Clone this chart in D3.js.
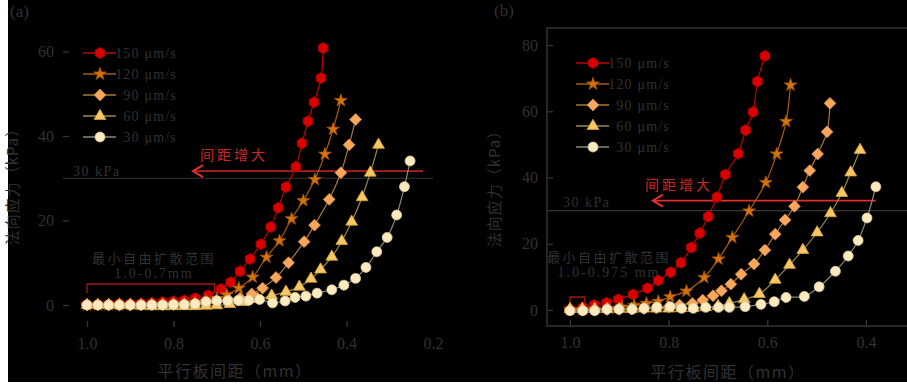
<!DOCTYPE html>
<html>
<head>
<meta charset="utf-8">
<script src="https://cdn.jsdelivr.net/npm/d3@7"></script>
<style>
  body { margin: 0; background: #fff; }
  svg text { font-family: "Liberation Serif", "DejaVu Serif", serif; fill: #313131; }
  svg text.cjk { font-family: "Noto Sans CJK SC", sans-serif; }
</style>
</head>
<body>
<div id="chart"></div>
<script>
// legend labels
var speeds = ["150 μm/s", "120 μm/s", "90 μm/s", "60 μm/s", "30 μm/s"];

// tick values
var xTicksA = [1.0, 0.8, 0.6, 0.4, 0.2];
var yTicksA = [0, 20, 40, 60];
var xTicksB = [1.0, 0.8, 0.6, 0.4];
var yTicksB = [0, 20, 40, 60, 80];

// panel (a): plate gap (mm) and normal stress (kPa)
var a150Gap = [1.0, 0.975, 0.95, 0.925, 0.9, 0.875, 0.85, 0.825, 0.8, 0.775, 0.75, 0.72, 0.69, 0.668, 0.646, 0.623, 0.598, 0.575, 0.558, 0.54, 0.517, 0.503, 0.489, 0.475, 0.459, 0.454];
var a150Kpa = [0.1, 0.1, 0.2, 0.3, 0.3, 0.4, 0.5, 0.7, 0.9, 1.1, 1.6, 2.3, 3.8, 5.4, 8.0, 10.9, 14.4, 18.5, 23.0, 27.9, 32.7, 38.3, 43.5, 48.0, 53.7, 60.8];
var a120Gap = [1.0, 0.975, 0.95, 0.925, 0.9, 0.875, 0.85, 0.825, 0.8, 0.775, 0.75, 0.725, 0.7, 0.677, 0.649, 0.617, 0.585, 0.555, 0.527, 0.5, 0.473, 0.45, 0.431, 0.413];
var a120Kpa = [0, 0, 0, 0, 0.1, 0.1, 0.2, 0.2, 0.3, 0.4, 0.6, 0.9, 1.5, 2.4, 4.0, 6.6, 11.3, 15.2, 20.4, 24.7, 29.7, 35.7, 41.6, 48.4];
var a90Gap = [1.0, 0.975, 0.95, 0.925, 0.9, 0.875, 0.85, 0.825, 0.8, 0.775, 0.75, 0.725, 0.7, 0.672, 0.646, 0.619, 0.594, 0.563, 0.534, 0.498, 0.474, 0.44, 0.413, 0.394, 0.379];
var a90Kpa = [0, 0, 0, 0, 0, 0, 0.1, 0.1, 0.1, 0.2, 0.3, 0.5, 0.8, 1.2, 1.6, 2.6, 4.0, 6.5, 10.0, 15.0, 18.9, 25.0, 31.3, 37.9, 43.9];
var a60Gap = [1.0, 0.975, 0.95, 0.925, 0.9, 0.875, 0.85, 0.825, 0.8, 0.775, 0.75, 0.725, 0.7, 0.67, 0.64, 0.605, 0.573, 0.54, 0.509, 0.482, 0.46, 0.434, 0.411, 0.388, 0.364, 0.345, 0.326];
var a60Kpa = [0, 0, 0, 0, 0, -0.2, -0.3, -0.3, -0.3, -0.3, -0.3, -0.2, -0.1, 0.2, 0.7, 1.4, 2.2, 3.1, 4.3, 6.2, 8.4, 11.4, 15.1, 19.7, 25.5, 31.3, 37.9];
var a30Gap = [1.0, 0.975, 0.95, 0.925, 0.9, 0.875, 0.85, 0.825, 0.8, 0.775, 0.75, 0.725, 0.7, 0.675, 0.65, 0.626, 0.601, 0.571, 0.542, 0.519, 0.494, 0.468, 0.434, 0.406, 0.379, 0.355, 0.33, 0.306, 0.284, 0.266, 0.253];
var a30Kpa = [0, 0, 0, 0, 0, 0, 0, 0, 0.1, 0.1, 0.3, 0.8, 1.0, 1.0, 1.1, 1.1, 1.3, 0.5, 0.95, 1.8, 2.1, 2.8, 3.6, 4.7, 6.3, 8.9, 12.6, 16.0, 21.3, 28.0, 34.1];

// panel (b)
var b150Gap = [1.0, 0.974, 0.951, 0.926, 0.902, 0.872, 0.843, 0.821, 0.796, 0.775, 0.754, 0.737, 0.72, 0.702, 0.685, 0.659, 0.644, 0.629, 0.62, 0.605];
var b150Kpa = [0.2, 0.8, 1.5, 2.2, 3.2, 4.7, 6.6, 8.9, 11.4, 14.3, 18.9, 23.2, 28.2, 34.1, 40.9, 47.2, 54.3, 59.8, 69.0, 76.7];
var b120Gap = [1.0, 0.975, 0.95, 0.921, 0.895, 0.87, 0.845, 0.821, 0.797, 0.764, 0.728, 0.699, 0.671, 0.637, 0.603, 0.581, 0.562, 0.553];
var b120Kpa = [0.1, 0.2, 0.3, 0.5, 0.9, 1.4, 2.0, 2.6, 4.0, 5.7, 9.8, 15.4, 21.9, 29.9, 38.5, 47.1, 56.9, 67.9];
var b90Gap = [1.0, 0.975, 0.95, 0.925, 0.9, 0.875, 0.85, 0.825, 0.8, 0.778, 0.752, 0.731, 0.71, 0.693, 0.674, 0.653, 0.627, 0.605, 0.584, 0.564, 0.545, 0.528, 0.514, 0.498, 0.479, 0.473];
var b90Kpa = [0, 0, 0, 0.1, 0.2, 0.3, 0.4, 0.6, 0.9, 1.5, 2.0, 3.0, 4.3, 5.8, 7.8, 10.8, 13.9, 18.1, 22.9, 27.2, 31.3, 37.1, 42.1, 47.1, 53.8, 62.4];
var b60Gap = [1.0, 0.975, 0.95, 0.925, 0.9, 0.875, 0.85, 0.825, 0.8, 0.775, 0.75, 0.725, 0.7, 0.677, 0.647, 0.616, 0.584, 0.555, 0.528, 0.499, 0.472, 0.449, 0.431, 0.412];
var b60Kpa = [0.3, 0.3, 0.3, 0.3, 0.3, 0.3, 0.4, 0.4, 0.4, 0.5, 0.6, 0.8, 1.2, 2.0, 3.2, 4.8, 9.1, 13.6, 18.1, 23.4, 29.2, 35.3, 41.5, 48.3];
var b30Gap = [1.0, 0.974, 0.95, 0.925, 0.901, 0.874, 0.85, 0.824, 0.797, 0.774, 0.75, 0.725, 0.699, 0.677, 0.645, 0.613, 0.586, 0.562, 0.525, 0.495, 0.462, 0.436, 0.416, 0.398, 0.38];
var b30Kpa = [-0.2, -0.2, -0.2, 0.2, 0.2, 0.2, 0.5, 0.8, 1.0, 0.5, 0.5, 0.8, 0.8, 0.8, 1.0, 1.7, 2.5, 3.8, 4.1, 7.0, 11.7, 16.3, 21.0, 27.8, 37.2];

// styles for the five speeds
var fills = ["#d90000", "#d6730f", "#f8a75c", "#f7c765", "#fdebbf"];
var edges = ["#a80000", "#a85406", "#d98a45", "#d4a440", "#d8c89a"];
var lineCols = ["#c00000", "#a85a10", "#a8783c", "#9c8a4c", "#8c8774"];

var hexagon = {
  draw: function(ctx, size) {
    var r = Math.sqrt(size / 2.598);
    for (var i = 0; i < 6; i++) {
      var a = Math.PI / 6 + i * Math.PI / 3;
      if (i === 0) ctx.moveTo(r * Math.cos(a), r * Math.sin(a));
      else ctx.lineTo(r * Math.cos(a), r * Math.sin(a));
    }
    ctx.closePath();
  }
};
var diamond = {
  draw: function(ctx, size) {
    var h = Math.sqrt(size / 2);
    ctx.moveTo(0, -h); ctx.lineTo(h, 0); ctx.lineTo(0, h); ctx.lineTo(-h, 0); ctx.closePath();
  }
};
var shapes = [hexagon, d3.symbolStar, diamond, d3.symbolTriangle, d3.symbolCircle];
var shapeSizes = [80, 50, 70, 60, 78];

var svgWidth = 907;
var svgHeight = 387;

var svg = d3.select("#chart")
  .append("svg")
  .attr("width", svgWidth)
  .attr("height", svgHeight);

svg.append("rect")
  .attr("x", 8).attr("y", 0)
  .attr("width", svgWidth - 8).attr("height", 382)
  .attr("fill", "#000");

function zip(g, k) { return g.map(function(v, i) { return [v, k[i]]; }); }

function drawPanel(p) {
  var x = d3.scaleLinear().domain(p.xDomain).range(p.xRange);
  var y = d3.scaleLinear().domain(p.yDomain).range(p.yRange);
  var g = svg.append("g");

  if (p.frame) {
    g.append("rect")
      .attr("x", p.left).attr("y", p.top)
      .attr("width", 400).attr("height", p.bottom - p.top)
      .attr("fill", "none").attr("stroke", "#333").attr("stroke-width", 1.5);
  }

  // axes with inward ticks
  var xAxis = g.append("g")
    .attr("transform", `translate(0, ${p.bottom})`)
    .call(d3.axisBottom(x).tickValues(p.xTicks).tickFormat(d3.format(".1f"))
      .tickSizeInner(-6).tickSizeOuter(0).tickPadding(11));
  var yAxis = g.append("g")
    .attr("transform", `translate(${p.left}, 0)`)
    .call(d3.axisLeft(y).tickValues(p.yTicks).tickSizeInner(-6).tickSizeOuter(0).tickPadding(9));
  [xAxis, yAxis].forEach(function(a) {
    a.select(".domain").remove();
    a.selectAll(".tick line").attr("stroke", "#363636").attr("stroke-width", 1.3);
    a.selectAll(".tick text").attr("font-size", "16px").attr("fill", "#313131")
      .style("font-family", "Liberation Serif");
  });
  if (p.hideTopTickX) xAxis.selectAll(".tick line").filter(function(d) { return d === 0.2; }).remove();

  // 30 kPa reference line
  g.append("line")
    .attr("x1", p.left).attr("x2", p.refRight)
    .attr("y1", y(30)).attr("y2", y(30))
    .attr("stroke", "#363636").attr("stroke-width", 1.2);
  g.append("text")
    .attr("x", p.refText[0]).attr("y", p.refText[1])
    .attr("font-size", "14px").attr("letter-spacing", "1.5px")
    .text("30 kPa");

  // arrow "间距增大"
  var ay = y(p.arrow[2]);
  g.append("line")
    .attr("x1", x(p.arrow[0])).attr("x2", x(p.arrow[1]))
    .attr("y1", ay).attr("y2", ay)
    .attr("stroke", p.arrowLine).attr("stroke-width", 1.8);
  g.append("path")
    .attr("d", `M${x(p.arrow[0]) + 10},${ay - 6}L${x(p.arrow[0])},${ay}L${x(p.arrow[0]) + 10},${ay + 6}`)
    .attr("fill", "none").attr("stroke", "#e0302f").attr("stroke-width", 2);
  g.append("text").attr("class", "cjk")
    .attr("x", p.arrowText[0]).attr("y", p.arrowText[1])
    .attr("font-size", "14px").attr("letter-spacing", "3px")
    .style("fill", "#c8282a")
    .text("间距增大");

  // free-diffusion bracket + notes
  g.append("path")
    .attr("d", `M${x(p.bracket[0])},${p.bracketY[1]}V${p.bracketY[0]}H${x(p.bracket[1])}V${p.bracketY[1]}`)
    .attr("fill", "none").attr("stroke", "#a01818").attr("stroke-width", 1.3);
  g.append("text").attr("class", "cjk")
    .attr("x", p.note[0]).attr("y", p.note[1])
    .attr("text-anchor", "middle").attr("font-size", "13px").attr("letter-spacing", "2.5px")
    .text("最小自由扩散范围");
  g.append("text")
    .attr("x", p.note[0]).attr("y", p.note[1] + 15)
    .attr("text-anchor", "middle").attr("font-size", "14px").attr("letter-spacing", "2px")
    .text(p.noteRange);

  // series
  p.series.forEach(function(s, i) {
    var pts = zip(s[0], s[1]);
    g.append("path")
      .datum(pts)
      .attr("fill", "none")
      .attr("stroke", lineCols[i])
      .attr("stroke-width", 1.2)
      .attr("d", d3.line().x(d => x(d[0])).y(d => y(d[1])).curve(d3.curveCatmullRom));
    g.selectAll(null)
      .data(pts)
      .enter().append("path")
      .attr("transform", d => `translate(${x(d[0])}, ${y(d[1])})`)
      .attr("d", d3.symbol().type(shapes[i]).size(shapeSizes[i]))
      .attr("fill", fills[i])
      .attr("stroke", edges[i])
      .attr("stroke-width", 0.8);
  });

  // legend
  speeds.forEach(function(name, i) {
    var ly = p.legend[1] + i * 21;
    g.append("line")
      .attr("x1", p.legend[0] - 17).attr("x2", p.legend[0] + 16)
      .attr("y1", ly).attr("y2", ly)
      .attr("stroke", lineCols[i]).attr("stroke-width", 1.3);
    g.append("path")
      .attr("transform", `translate(${p.legend[0]}, ${ly})`)
      .attr("d", d3.symbol().type(shapes[i]).size(shapeSizes[i]))
      .attr("fill", fills[i]).attr("stroke", edges[i]).attr("stroke-width", 0.8);
    g.append("text")
      .attr("x", p.legend[0] + 77).attr("y", ly + 5)
      .attr("text-anchor", "end")
      .attr("font-size", "14px").attr("letter-spacing", "1.2px")
      .text(name);
  });

  // axis titles and panel tag
  g.append("text").attr("class", "cjk")
    .attr("x", p.xTitle[0]).attr("y", p.xTitle[1])
    .attr("text-anchor", "middle").attr("font-size", "16px").attr("letter-spacing", "1.5px")
    .text("平行板间距（mm）");
  g.append("text").attr("class", "cjk")
    .attr("transform", `translate(${p.yTitle[0]}, ${p.yTitle[1]}) rotate(-90)`)
    .attr("text-anchor", "middle").attr("font-size", "15px").attr("letter-spacing", "1px")
    .text("法向应力（kPa）");
  g.append("text")
    .attr("x", p.tag[0]).attr("y", p.tag[1])
    .attr("font-size", "17px")
    .text(p.tagText);
}

drawPanel({
  xDomain: [1.0, 0.2], xRange: [87, 433],
  yDomain: [0, 60], yRange: [305, 51.5],
  left: 63, top: 20, bottom: 327, frame: false, hideTopTickX: true,
  xTicks: xTicksA, yTicks: yTicksA,
  refRight: 433, refText: [73, 176],
  arrow: [0.755, 0.223, 31.7], arrowLine: "#b02020", arrowText: [200, 160],
  bracket: [1.0, 0.705], bracketY: [284, 293],
  note: [154, 263], noteRange: "1.0-0.7mm",
  legend: [100, 53],
  xTitle: [235, 377], yTitle: [18, 183],
  tag: [10, 17], tagText: "(a)",
  series: [[a150Gap, a150Kpa], [a120Gap, a120Kpa], [a90Gap, a90Kpa], [a60Gap, a60Kpa], [a30Gap, a30Kpa]]
});

drawPanel({
  xDomain: [1.0, 0.4], xRange: [570, 866],
  yDomain: [0, 80], yRange: [310, 45],
  left: 547, top: 28, bottom: 326, frame: true, hideTopTickX: false,
  xTicks: xTicksB, yTicks: yTicksB,
  refRight: 907, refText: [563, 207],
  arrow: [0.832, 0.38, 33.0], arrowLine: "#e03030", arrowText: [645, 190],
  bracket: [1.0, 0.97], bracketY: [297, 305],
  note: [609, 262], noteRange: "1.0-0.975 mm",
  legend: [593, 63],
  xTitle: [728, 378], yTitle: [500, 185],
  tag: [494, 16], tagText: "(b)",
  series: [[b150Gap, b150Kpa], [b120Gap, b120Kpa], [b90Gap, b90Kpa], [b60Gap, b60Kpa], [b30Gap, b30Kpa]]
});
</script>
</body>
</html>
